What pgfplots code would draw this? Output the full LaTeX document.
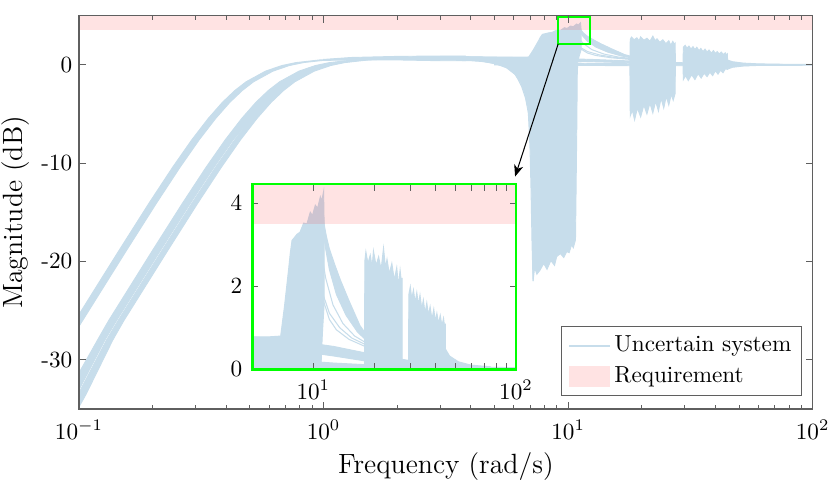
\documentclass[border=0pt]{standalone}
\usepackage{pgfplots}
\pgfplotsset{compat=1.18}
\usepackage{pgfplotstable}
\usetikzlibrary{arrows.meta}
\definecolor{unc}{RGB}{199,221,235}
\definecolor{grn}{RGB}{0,255,0}
\definecolor{axc}{RGB}{95,95,95}

% ---------- low-frequency band, group A ----------
\pgfplotstableread{
w db
0.04825 -38.0
0.06755 -32.2
0.08685 -27.8
0.0965 -26.0
0.14475 -19.0
0.193 -14.1
0.24125 -10.43
0.2895 -7.61
0.33775 -5.45
0.386 -3.81
0.43425 -2.60
0.4825 -1.72
0.579 -0.64
0.6755 -0.07
0.772 0.23
0.965 0.50
1.2545 0.63
1.93 0.69
2.07 0.69
1.3455 0.63
1.035 0.50
0.828 0.23
0.7245 -0.07
0.621 -0.64
0.5175 -1.72
0.46575 -2.60
0.414 -3.81
0.36225 -5.45
0.3105 -7.61
0.25875 -10.43
0.207 -14.1
0.15525 -19.0
0.1035 -26.0
0.09315 -27.8
0.07245 -32.2
0.05175 -38.0
}\groupA

% ---------- low-frequency band, group B (two sub-bands) ----------
\pgfplotstableread{
w db
0.0661 -39.0
0.0926 -32.8
0.1190 -28.0
0.1323 -26.0
0.1984 -19.0
0.2645 -14.1
0.3306 -10.43
0.3968 -7.61
0.4629 -5.45
0.5290 -3.81
0.5951 -2.60
0.6613 -1.72
0.7935 -0.64
0.9258 -0.07
1.058 0.23
1.3225 0.50
1.719 0.63
2.645 0.69
2.890 0.69
1.8785 0.63
1.445 0.50
1.156 0.23
1.0115 -0.07
0.867 -0.64
0.7225 -1.72
0.6503 -2.60
0.578 -3.81
0.5058 -5.45
0.4275 -7.61
0.35625 -10.43
0.285 -14.1
0.21375 -19.0
0.1425 -26.0
0.12825 -27.9
0.09975 -33.1
0.07125 -39.5
}\groupBa

\pgfplotstableread{
w db
0.0723 -39.5
0.1012 -33.1
0.1301 -27.9
0.1445 -26.0
0.2168 -19.0
0.289 -14.1
0.3613 -10.43
0.4335 -7.61
0.5058 -5.45
0.578 -3.81
0.6503 -2.60
0.7225 -1.72
0.867 -0.64
1.0115 -0.07
1.156 0.23
1.445 0.50
1.8785 0.63
2.89 0.69
3.054 0.69
1.985 0.63
1.527 0.50
1.222 0.23
1.069 -0.07
0.9162 -0.64
0.7635 -1.72
0.6872 -2.60
0.6108 -3.81
0.5345 -5.45
0.4581 -7.61
0.3818 -10.43
0.3054 -14.1
0.2291 -19.0
0.1527 -26.0
0.1374 -28.0
0.1069 -33.5
0.0764 -40.0
}\groupBb

% ---------- flat pass band ----------
\pgfplotstableread{
w db
1.0 0.55
1.3 0.75
2.0 0.86
3.0 0.9
3.8 0.9
3.8 0.42
3.0 0.42
2.0 0.5
1.3 0.5
1.0 0.45
}\flatband

% ---------- notch + main resonance ----------
\pgfplotstableread{
w db
3.5 0.85
4.0 0.82
5.0 0.78
6.0 0.78
6.9 0.8
7.2 1.5
7.55 2.4
7.7 2.8
7.85 3.1
8.31 3.25
8.6 3.3
8.96 3.52
9.3 3.5
9.66 3.78
9.9 3.7
10.23 3.95
10.5 3.88
10.83 4.15
11.0 4.05
11.24 4.28
11.3 3.6
11.32 1.6
11.1 0.9
10.95 0.3
10.9 -1.0
10.85 -6.6
10.72 -17.8
10.5 -18.6
10.33 -18.3
10.1 -19.1
9.87 -19.0
9.6 -19.6
9.3 -19.2
8.98 -19.5
8.8 -20.4
8.5 -19.9
8.2 -20.8
7.95 -20.2
7.67 -20.9
7.45 -21.3
7.3 -20.6
7.19 -22.0
7.16 -19
7.12 -15
7.08 -11
7.02 -8
6.95 -6
6.85 -4.3
6.65 -2.9
6.4 -1.8
6.05 -0.95
5.6 -0.3
5.0 0.15
4.4 0.35
4.0 0.42
3.5 0.45
}\core

% ---------- decaying tails after the resonance ----------
\pgfplotstableread{
w db
11.0 3.9
11.3 3.5
11.6 3.2
12.0 2.9
12.8 2.5
13.6 2.15
15.0 1.65
17.0 1.05
18.2 0.85
18.2 0.7
16.5 0.9
14.5 1.3
13.0 1.8
12.0 2.4
11.5 2.9
11.2 3.3
}\tail

% ---------- low base bands ----------
\pgfplotstableread{
w db
3.5 0.85
5.0 0.78
7.1 0.72
9.0 0.65
12.6 0.55
17.0 0.42
23.1 0.3
32.5 0.18
45.0 0.12
45.0 0.02
32.5 0.05
23.1 0.12
17.0 0.22
12.6 0.32
9.0 0.42
7.1 0.5
5.0 0.55
3.5 0.6
}\baseA

\pgfplotstableread{
w db
5.0 0.25
9.0 0.2
12.6 0.15
20.0 0.1
45.0 0.06
100.0 0.04
100.0 -0.04
45.0 -0.08
20.0 -0.1
12.6 -0.06
9.0 -0.05
5.0 0.0
}\baseB

% ---------- second burst ----------
\pgfplotstableread{
w db
17.9 0.6
17.95 2.6
18.17 2.83
18.6 2.55
19.1 2.75
19.5 2.45
19.8 2.85
20.4 2.5
21.0 2.71
21.6 2.4
22.2 2.92
22.7 2.45
23.1 2.65
23.7 2.3
24.4 2.55
25.1 2.15
25.8 2.45
26.3 2.0
26.8 2.39
27.2 2.1
27.4 2.2
27.45 0.3
27.4 -2.9
26.9 -3.6
26.4 -3.0
25.8 -4.1
25.2 -3.2
24.6 -4.4
24.0 -3.4
23.4 -4.7
22.8 -3.7
22.2 -4.9
21.6 -3.9
21.0 -5.0
20.4 -4.1
19.8 -5.3
19.2 -4.4
18.7 -5.6
18.3 -4.6
17.95 -5.2
17.9 -1.0
}\burstB

% ---------- third burst ----------
\pgfplotstableread{
w db
29.5 0.4
29.6 1.8
30.1 1.99
30.6 1.7
31.2 1.91
31.8 1.6
32.4 1.85
33.0 1.55
33.6 1.79
34.3 1.45
34.9 1.67
35.6 1.35
36.3 1.6
37.0 1.3
37.7 1.51
38.5 1.2
39.3 1.45
40.0 1.15
40.7 1.35
41.5 1.1
42.3 1.3
43.1 1.05
43.9 1.23
44.5 1.0
44.8 1.1
44.9 0.3
44.9 -0.45
44.0 -0.4
43.0 -0.8
42.0 -0.55
41.0 -0.95
40.0 -0.6
39.0 -1.1
38.0 -0.75
37.0 -1.2
36.0 -0.85
35.0 -1.35
34.0 -0.9
33.0 -1.5
32.0 -1.0
31.0 -1.6
30.2 -1.1
29.6 -1.5
29.5 -0.3
}\burstC

\pgfplotstableread{
w db
44.7 0.5
47.0 0.32
52.0 0.18
60.0 0.1
75.0 0.06
75.0 -0.04
60.0 -0.06
52.0 -0.12
47.0 -0.25
44.7 -0.45
}\tailC

% ---------- single curves ----------
\pgfplotstableread{
w db
3.5 0.55
4.43 0.4
5.0 0.12
5.4 -0.1
5.68 -0.35
6.1 -1.0
6.46 -2.2
6.7 -3.4
6.88 -4.9
6.99 -8.6
7.06 -13
7.12 -18
7.19 -22
}\lineA

\pgfplotstableread{
w db
3.5 0.6
4.6 0.42
5.2 0.18
5.8 -0.35
6.3 -1.2
6.6 -2.2
6.85 -3.6
7.0 -6.0
7.08 -9.5
7.15 -14
}\lineB

\pgfplotstableread{
w db
10.0 3.6
10.8 3.0
11.5 2.2
12.5 1.55
14.0 1.1
16.0 0.8
18.0 0.65
}\lineC

\pgfplotstableread{
w db
9.5 3.5
10.2 2.7
11.0 1.9
12.0 1.35
13.5 1.0
15.5 0.75
18.0 0.6
}\lineD

\pgfplotstableread{
w db
11.3 1.6
12.0 1.2
13.0 0.95
15.0 0.72
18.0 0.55
}\lineE

\pgfplotsset{
  upoly/.style={fill=unc, draw=unc, line width=0.4pt, forget plot},
  uline/.style={draw=unc, line width=0.45pt, forget plot},
  req/.style={fill=red, fill opacity=0.11, draw=none, forget plot},
}

\newcommand{\curves}{%
  \addplot[upoly] table[x=w,y=db] {\groupA} -- cycle;
  \addplot[upoly] table[x=w,y=db] {\groupBa} -- cycle;
  \addplot[upoly] table[x=w,y=db] {\groupBb} -- cycle;
  \addplot[upoly] table[x=w,y=db] {\flatband} -- cycle;
  \addplot[upoly] table[x=w,y=db] {\baseA} -- cycle;
  \addplot[upoly] table[x=w,y=db] {\baseB} -- cycle;
  \addplot[upoly] table[x=w,y=db] {\core} -- cycle;
  \addplot[upoly] table[x=w,y=db] {\tail} -- cycle;
  \addplot[upoly] table[x=w,y=db] {\burstB} -- cycle;
  \addplot[upoly] table[x=w,y=db] {\burstC} -- cycle;
  \addplot[upoly] table[x=w,y=db] {\tailC} -- cycle;
  \addplot[uline] table[x=w,y=db] {\lineA};
  \addplot[uline] table[x=w,y=db] {\lineB};
  \addplot[uline] table[x=w,y=db] {\lineC};
  \addplot[uline] table[x=w,y=db] {\lineD};
  \addplot[uline] table[x=w,y=db] {\lineE};
}

\begin{document}
\begin{tikzpicture}
\useasboundingbox (0,0) rectangle (357.76pt,208.19pt);
\begin{axis}[
  at={(34.05pt,31.90pt)}, anchor=south west,
  scale only axis, width=316.25pt, height=169.53pt,
  xmode=log, xmin=0.1, xmax=100, ymin=-35, ymax=5,
  axis on top,
  xtick={0.1,1,10,100},
  xticklabels={$10^{-1}$,$10^{0}$,$10^{1}$,$10^{2}$},
  minor xtick={0.2,0.3,0.4,0.5,0.6,0.7,0.8,0.9,2,3,4,5,6,7,8,9,20,30,40,50,60,70,80,90},
  ytick={-30,-20,-10,0},
  yticklabels={-30,-20,-10,0},
  tick align=inside,
  major tick length=3pt, minor tick length=1.8pt,
  tick style={axc, line width=0.4pt},
  axis line style={axc, line width=0.45pt},
  xticklabel style={anchor=base, yshift=-13.1pt},
  yticklabel style={anchor=east, inner sep=0pt, xshift=-2.7pt},
  xlabel={Frequency (rad/s)},
  ylabel={Magnitude (dB)},
  label style={font=\fontsize{12}{14}\selectfont},
  xlabel style={at={(axis description cs:0.5,-0.1634)}, anchor=base},
  ylabel style={at={(axis description cs:-0.07675,0.5)}, anchor=base, rotate=0},
  legend cell align=left,
  legend style={at={(1,0)}, anchor=south east, xshift=-4.5pt, yshift=5.6pt,
    draw=axc, line width=0.4pt, fill=white, inner xsep=3pt, inner ysep=1.8pt,
    row sep=0pt, font=\fontsize{10}{12}\selectfont,
    nodes={inner sep=1.5pt, text height=7.5pt, text depth=2.5pt}},
]
\curves
\addplot[req] coordinates {(0.1,3.5) (100,3.5) (100,5) (0.1,5)} -- cycle;
\addlegendimage{legend image code/.code={\draw[unc, line width=0.7pt] (0pt,0pt) -- (17.7pt,0pt);}}
\addlegendentry{Uncertain system}
\addlegendimage{legend image code/.code={\path[draw=none, fill=red, fill opacity=0.11] (0pt,-4.45pt) rectangle (17.7pt,4.45pt);}}
\addlegendentry{Requirement}
\draw[grn, line width=1.1pt] (9.11,2.14) rectangle (12.3,4.85);
\draw[black, line width=0.45pt, -{Stealth[length=5pt,width=4pt,inset=1.5pt]}] (9.11,2.14) -- (6.07,-11.36);
\end{axis}

\begin{axis}[
  at={(108.75pt,49.01pt)}, anchor=south west,
  scale only axis, width=113.66pt, height=79.87pt,
  xmode=log, xmin=5, xmax=100, ymin=0, ymax=4.46,
  axis on top,
  axis background/.style={fill=white},
  xtick={10,100},
  xticklabels={$10^{1}$,$10^{2}$},
  minor xtick={},
  ytick={0,2,4},
  yticklabels={0,2,4},
  tick align=inside,
  major tick length=2.5pt,
  tick style={axc, line width=0.4pt},
  axis line style={grn, line width=1.1pt},
  xticklabel style={anchor=base, yshift=-12.9pt},
  yticklabel style={anchor=east, inner sep=0pt, xshift=-4.1pt},
]
\curves
\addplot[req] coordinates {(5,3.5) (100,3.5) (100,5) (5,5)} -- cycle;
\end{axis}
\end{tikzpicture}
\end{document}
